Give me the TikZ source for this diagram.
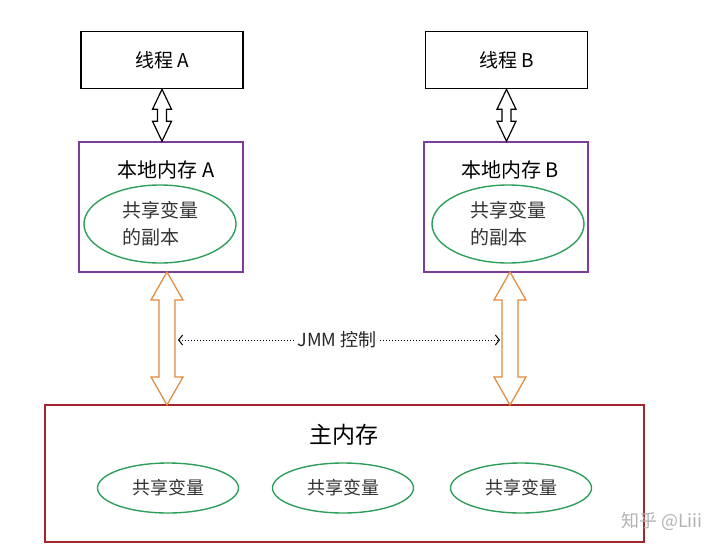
\documentclass[tikz,border=0pt]{standalone}
\usepackage{fontspec}
\setmainfont{Noto Sans CJK SC}
\usetikzlibrary{shapes.geometric,arrows.meta,calc}

\definecolor{jpurple}{HTML}{7D3C98}
\definecolor{jgreen}{HTML}{2E9E5A}
\definecolor{jorange}{HTML}{E0893A}
\definecolor{jred}{HTML}{A3262C}

\tikzset{
  thread/.style={draw=black, line width=1.6pt, minimum width=162pt, minimum height=57pt, font=\fontsize{19}{21}\selectfont},
  local/.style={draw=jpurple, line width=1.6pt, minimum width=164pt, minimum height=130pt},
  mainbox/.style={draw=jred, line width=1.6pt, minimum width=599pt, minimum height=137pt},
  share/.style={draw=jgreen, line width=1.4pt, ellipse, inner sep=0pt, text=black!80},
  jmm/.style={dotted, line width=1pt, -{Straight Barb[length=4pt,width=10pt]}}
}

% hollow double arrow between two points (top, bottom)
\newcommand{\dblarrow}[6]{%
  \draw[#6, line width=1.2pt, fill=white, line join=miter] let \p1=(#1), \p2=(#2) in
    (\x1,\y1) -- (\x1-#3,\y1-#5) -- (\x1-#4,\y1-#5) -- (\x1-#4,\y2+#5) -- (\x1-#3,\y2+#5)
    -- (\x1,\y2) -- (\x1+#3,\y2+#5) -- (\x1+#4,\y2+#5) -- (\x1+#4,\y1-#5) -- (\x1+#3,\y1-#5) -- cycle;}

\begin{document}
\begin{tikzpicture}[x=1pt, y=-1pt]
  \useasboundingbox (0,0) rectangle (720,554);

  % threads
  \node[thread] (ta) at (162,60) {线程 A};
  \node[thread] (tb) at (506.5,60) {线程 B};

  % local memory
  \node[local] (la) at (161,207) {};
  \node[local] (lb) at (506,207) {};
  \node[font=\fontsize{20}{22}\selectfont] (lat) at (166,170) {本地内存 A};
  \node[font=\fontsize{20}{22}\selectfont] (lbt) at (510,170) {本地内存 B};
  \node[share, minimum width=152pt, minimum height=78pt, align=left, font=\fontsize{19}{27}\selectfont] (ca) at (160,224) {共享变量\\的副本};
  \node[share, minimum width=152pt, minimum height=78pt, align=left, font=\fontsize{19}{27}\selectfont] (cb) at (508,224) {共享变量\\的副本};

  % main memory
  \node[mainbox] (mm) at (344.5,473.5) {};
  \node[font=\fontsize{23}{25}\selectfont] (mt) at (344,435) {主内存};
  \foreach \n/\x in {1/168, 2/343, 3/521}
    \node[share, minimum width=141pt, minimum height=50pt, font=\fontsize{18}{20}\selectfont] (v\n) at (\x,488) {共享变量};

  % arrows
  \dblarrow{ta.south}{la.north}{9.5pt}{4.5pt}{20pt}{black}
  \dblarrow{tb.south}{lb.north}{9.5pt}{4.5pt}{20pt}{black}
  \coordinate (pa) at (167,272);
  \coordinate (qa) at (167,405);
  \coordinate (pb) at (510,272);
  \coordinate (qb) at (510,405);
  \dblarrow{pa}{qa}{16pt}{8pt}{28pt}{jorange}
  \dblarrow{pb}{qb}{16pt}{8pt}{28pt}{jorange}

  % JMM control
  \node[font=\fontsize{18}{20}\selectfont, text=black!85] (jm) at (337,340) {JMM 控制};
  \coordinate (ja) at (178,340);
  \coordinate (jb) at (500,340);
  \draw[jmm] (jm.west) -- (ja);
  \draw[jmm] (jm.east) -- (jb);

  \node[font=\fontsize{18}{20}\selectfont, text=black!30] (wm) at (662,521) {知乎 @Liii};
\end{tikzpicture}
\end{document}
